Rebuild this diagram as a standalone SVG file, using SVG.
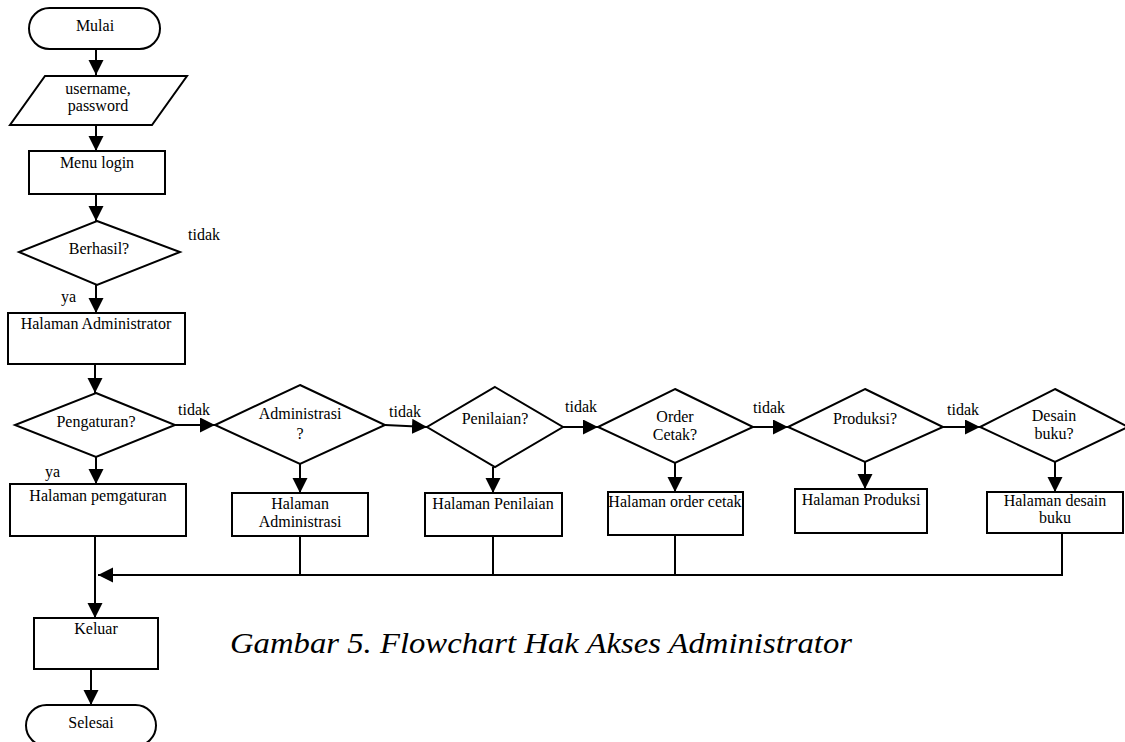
<svg xmlns="http://www.w3.org/2000/svg" width="1125" height="742" viewBox="0 0 1125 742">
<defs>
<marker id="ah" markerUnits="userSpaceOnUse" markerWidth="16" markerHeight="16" refX="15" refY="7.5" orient="auto">
<path d="M0,0 L15,7.5 L0,15 z" fill="#000"/>
</marker>
<style>
.s{fill:#fff;stroke:#000;stroke-width:2}
.t{font-family:"Liberation Serif","Times New Roman",serif;font-size:16px;fill:#000;text-anchor:middle}
.l{font-family:"Liberation Serif","Times New Roman",serif;font-size:16px;fill:#000}
.c{fill:none;stroke:#000;stroke-width:2}
.a{fill:none;stroke:#000;stroke-width:2;marker-end:url(#ah)}
</style>
</defs>
<rect width="1125" height="742" fill="#fff"/>
<g id="connectors">
<line class="a" x1="96" y1="49" x2="96" y2="75"/>
<line class="a" x1="96" y1="125" x2="96" y2="151"/>
<line class="a" x1="96" y1="194" x2="96" y2="221"/>
<line class="a" x1="96" y1="285" x2="96" y2="313"/>
<line class="a" x1="95" y1="364" x2="95" y2="393"/>
<line class="a" x1="96" y1="457" x2="96" y2="484"/>
<line class="a" x1="175" y1="425" x2="215" y2="425"/>
<line class="a" x1="300" y1="464" x2="300" y2="493"/>
<line class="a" x1="385" y1="425" x2="427" y2="427"/>
<line class="a" x1="493" y1="467" x2="493" y2="493"/>
<line class="a" x1="563" y1="427" x2="598" y2="427"/>
<line class="a" x1="675" y1="463" x2="675" y2="492"/>
<line class="a" x1="753" y1="427" x2="788" y2="427"/>
<line class="a" x1="865" y1="462" x2="865" y2="489"/>
<line class="a" x1="943" y1="427" x2="980" y2="427"/>
<line class="a" x1="1055" y1="462" x2="1055" y2="492"/>
<line class="c" x1="300" y1="536" x2="300" y2="575"/>
<line class="c" x1="493" y1="536" x2="493" y2="575"/>
<line class="c" x1="675" y1="535" x2="675" y2="575"/>
<polyline class="a" points="1062,533 1062,575 98,575"/>
<line class="a" x1="95" y1="536" x2="95" y2="618"/>
<line class="a" x1="91" y1="669" x2="91" y2="705"/>
</g>
<g id="mulai"><rect class="s" x="29" y="8" width="131" height="41" rx="20.5"/><text class="t" x="95" y="31">Mulai</text></g>
<g id="input"><polygon class="s" points="45,76 187,76 152,125 10,125"/><text class="t" x="98" y="94">username,</text><text class="t" x="98" y="111">password</text></g>
<g id="menu-login"><rect class="s" x="29" y="151" width="136" height="43"/><text class="t" x="97" y="168">Menu login</text></g>
<g id="berhasil"><polygon class="s" points="97,221 180,252 97,285 19,252"/><text class="t" x="99" y="254">Berhasil?</text></g>
<text class="l" x="188" y="240">tidak</text>
<text class="l" x="61" y="302">ya</text>
<g id="halaman-admin"><rect class="s" x="8" y="313" width="177" height="51"/><text class="t" x="96" y="329">Halaman Administrator</text></g>
<g id="pengaturan"><polygon class="s" points="96,393 175,425 96,457 15,425"/><text class="t" x="96" y="427">Pengaturan?</text></g>
<text class="l" x="178" y="415">tidak</text>
<text class="l" x="45" y="477">ya</text>
<g id="halaman-pengaturan"><rect class="s" x="10" y="484" width="176" height="52"/><text class="t" x="98" y="501">Halaman pemgaturan</text></g>
<g id="administrasi"><polygon class="s" points="300,385 385,425 300,464 215,425"/><text class="t" x="300" y="419">Administrasi</text><text class="t" x="300" y="439">?</text></g>
<text class="l" x="389" y="417">tidak</text>
<g id="halaman-administrasi"><rect class="s" x="232" y="493" width="136" height="43"/><text class="t" x="300" y="509">Halaman</text><text class="t" x="300" y="527">Administrasi</text></g>
<g id="penilaian"><polygon class="s" points="495,387 563,427 495,467 427,427"/><text class="t" x="495" y="424">Penilaian?</text></g>
<text class="l" x="565" y="412">tidak</text>
<g id="halaman-penilaian"><rect class="s" x="425" y="493" width="137" height="43"/><text class="t" x="493" y="509">Halaman Penilaian</text></g>
<g id="order-cetak"><polygon class="s" points="675,389 753,427 675,463 598,427"/><text class="t" x="675" y="422">Order</text><text class="t" x="675" y="440">Cetak?</text></g>
<text class="l" x="753" y="413">tidak</text>
<g id="halaman-order"><rect class="s" x="608" y="492" width="135" height="43"/><text class="t" x="675" y="507">Halaman order cetak</text></g>
<g id="produksi"><polygon class="s" points="865,389 943,427 865,462 788,427"/><text class="t" x="865" y="424">Produksi?</text></g>
<text class="l" x="947" y="415">tidak</text>
<g id="halaman-produksi"><rect class="s" x="795" y="489" width="132" height="44"/><text class="t" x="861" y="505">Halaman Produksi</text></g>
<g id="desain-buku"><polygon class="s" points="1055,389 1128,427 1055,462 980,427"/><text class="t" x="1054" y="421">Desain</text><text class="t" x="1054" y="439">buku?</text></g>
<g id="halaman-desain"><rect class="s" x="987" y="492" width="136" height="41"/><text class="t" x="1055" y="506">Halaman desain</text><text class="t" x="1055" y="523">buku</text></g>
<g id="keluar"><rect class="s" x="34" y="618" width="124" height="51"/><text class="t" x="96" y="634">Keluar</text></g>
<g id="selesai"><rect class="s" x="26" y="705" width="130" height="41" rx="20.5"/><text class="t" x="91" y="728">Selesai</text></g>
<text x="541" y="653" style="font-family:'Liberation Serif','Times New Roman',serif;font-style:italic;font-size:30px;fill:#000;text-anchor:middle" textLength="622" lengthAdjust="spacingAndGlyphs">Gambar 5. Flowchart Hak Akses Administrator</text>
</svg>
